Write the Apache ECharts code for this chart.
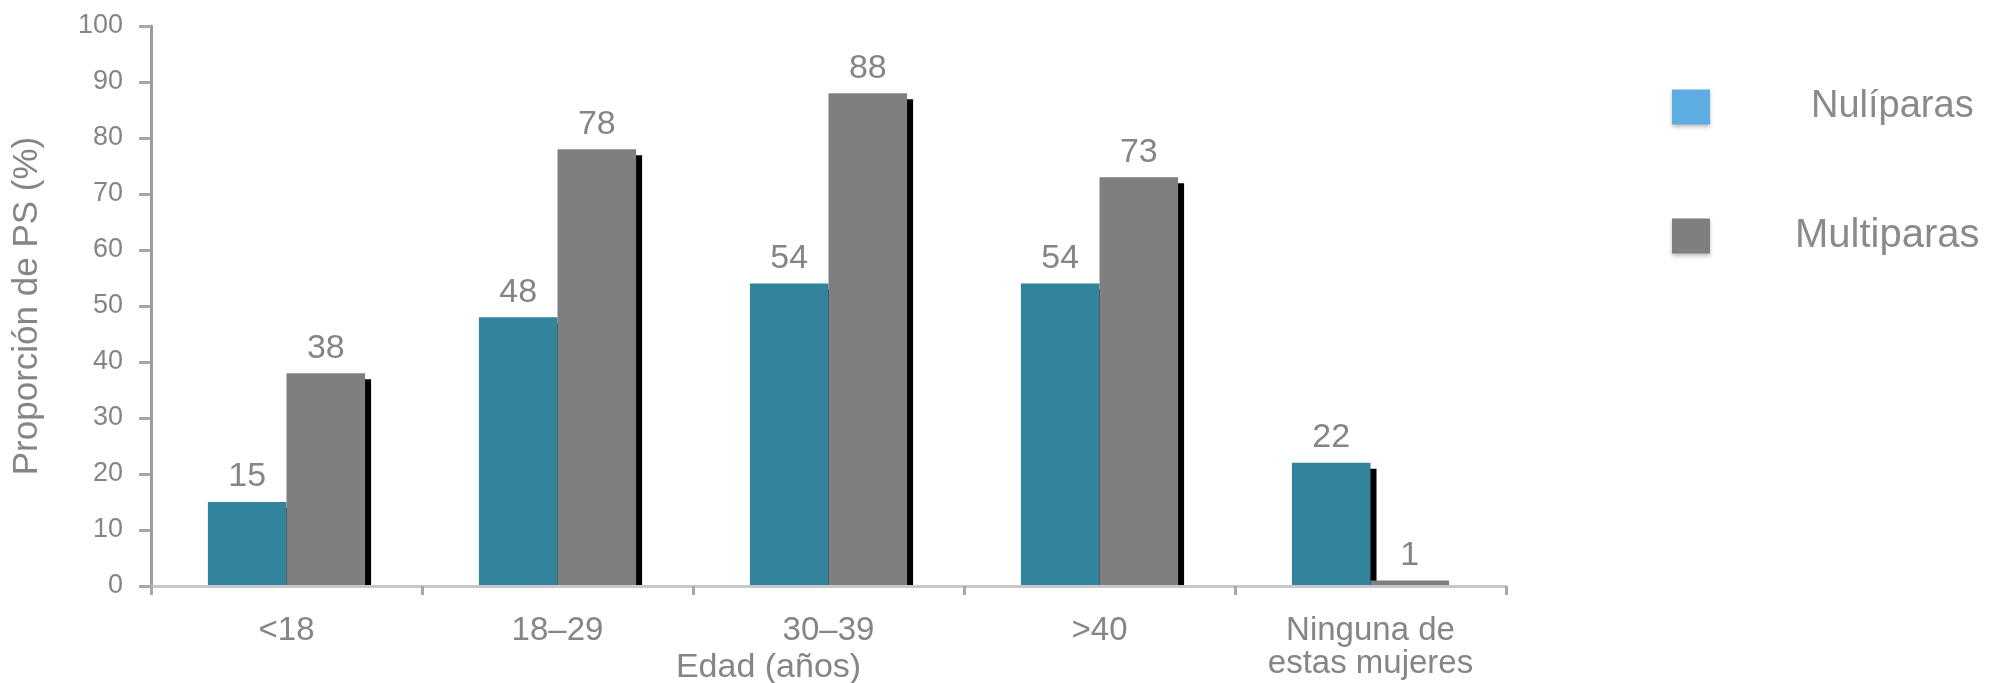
<!DOCTYPE html>
<html>
<head>
<meta charset="utf-8">
<script src="https://cdn.jsdelivr.net/npm/echarts@6/dist/echarts.min.js"></script>
<style>
  html, body { margin: 0; padding: 0; background: #ffffff; }
  #chart { width: 2010px; height: 683px; }
</style>
</head>
<body>
<div id="chart"></div>
<script>
// Age groups on the x axis
const categories = ['<18', '18–29', '30–39', '>40', 'Ninguna de\nestas mujeres'];
// Share of women with PS (%) by parity
const nuliparas = [15, 48, 54, 54, 22];
const multiparas = [38, 78, 88, 73, 1];
const seriesNames = ['Nulíparas', 'Multiparas'];
const yTicks = { min: 0, max: 100, interval: 10 };

const FONT = 'Liberation Sans';
const TEXT_GREY = '#858585';
const TEAL = '#31849b';
const GREY = '#7f7f7f';
const LEGEND_BLUE = '#5dade2';

const barShadow = {
  shadowColor: '#000000',
  shadowBlur: 0,
  shadowOffsetX: 6,
  shadowOffsetY: 6
};

const chart = echarts.init(document.getElementById('chart'), null, { renderer: 'canvas' });

chart.setOption({
  backgroundColor: '#ffffff',
  animation: false,
  textStyle: { fontFamily: FONT },
  grid: { left: 151, right: 504, top: 26, bottom: 97, containLabel: false, outerBoundsMode: 'none' },
  legend: {
    orient: 'vertical',
    left: 1667,
    top: 83,
    itemWidth: 38,
    itemHeight: 35,
    itemGap: 90,
    icon: 'rect',
    selectedMode: false,
    data: [
      { name: seriesNames[0], itemStyle: { color: LEGEND_BLUE, shadowColor: 'rgba(0,0,0,0.25)', shadowBlur: 4, shadowOffsetY: 2 } },
      { name: seriesNames[1], itemStyle: { color: GREY, shadowColor: 'rgba(0,0,0,0.25)', shadowBlur: 4, shadowOffsetY: 2 } }
    ],
    formatter: function (name) {
      return name === seriesNames[0] ? '{n|' + name + '}' : '{m|' + name + '}';
    },
    textStyle: {
      fontFamily: FONT,
      color: '#8a8a8a',
      fontSize: 38,
      rich: {
        n: { fontFamily: FONT, fontSize: 38, color: '#8a8a8a', lineHeight: 35, padding: [0, 0, 0, 96] },
        m: { fontFamily: FONT, fontSize: 40, color: '#8a8a8a', lineHeight: 35, padding: [0, 0, 0, 80] }
      }
    }
  },
  xAxis: {
    type: 'category',
    data: categories,
    z: 20,
    boundaryGap: true,
    name: 'Edad (años)',
    nameLocation: 'middle',
    nameGap: 65,
    nameMoveOverlap: false,
    nameTextStyle: {
      fontFamily: FONT,
      fontSize: 34,
      color: TEXT_GREY,
      padding: [0, 120, 0, 0]
    },
    axisLine: { lineStyle: { color: '#c8c8c8', width: 3 } },
    axisTick: { show: true, length: 9, lineStyle: { color: '#a8a8a8', width: 3 } },
    axisLabel: {
      fontFamily: FONT,
      fontSize: 33,
      lineHeight: 33,
      color: TEXT_GREY,
      margin: 28,
      interval: 0
    },
    splitLine: { show: false }
  },
  yAxis: {
    type: 'value',
    min: yTicks.min,
    max: yTicks.max,
    interval: yTicks.interval,
    z: 20,
    name: 'Proporción de PS (%)',
    nameLocation: 'middle',
    nameRotate: 90,
    nameGap: 106,
    nameMoveOverlap: false,
    nameTextStyle: { fontFamily: FONT, fontSize: 35, color: TEXT_GREY },
    axisLine: { show: true, lineStyle: { color: '#9c9c9c', width: 3 } },
    axisTick: { show: true, inside: false, length: 12, lineStyle: { color: '#a8a8a8', width: 3 } },
    axisLabel: { fontFamily: FONT, fontSize: 27, color: TEXT_GREY, margin: 28 },
    splitLine: { show: false }
  },
  graphic: [
    {
      // keeps bar shadows from showing below the baseline
      type: 'rect',
      z: 10,
      shape: { x: 153, y: 587, width: 1356, height: 14 },
      style: { fill: '#ffffff' },
      silent: true
    }
  ],
  series: [
    {
      name: seriesNames[0],
      type: 'bar',
      data: nuliparas,
      barGap: '0%',
      barCategoryGap: '42%',
      itemStyle: Object.assign({ color: TEAL }, barShadow),
      label: {
        show: true,
        position: 'top',
        distance: 8,
        fontFamily: FONT,
        fontSize: 34,
        color: TEXT_GREY
      }
    },
    {
      name: seriesNames[1],
      type: 'bar',
      data: multiparas,
      barGap: '0%',
      barCategoryGap: '42%',
      itemStyle: Object.assign({ color: GREY }, barShadow),
      label: {
        show: true,
        position: 'top',
        distance: 8,
        fontFamily: FONT,
        fontSize: 34,
        color: TEXT_GREY
      }
    }
  ]
});
</script>
</body>
</html>
